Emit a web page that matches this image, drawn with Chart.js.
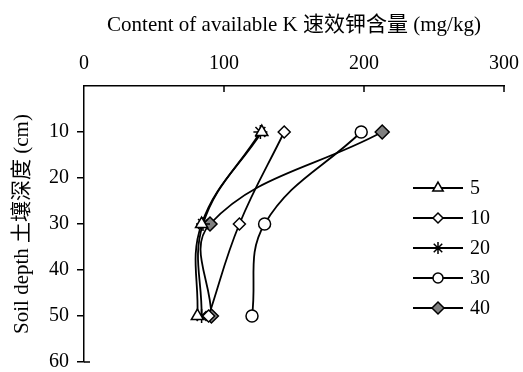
<!DOCTYPE html>
<html><head><meta charset="utf-8">
<script src="https://cdn.jsdelivr.net/npm/chart.js@4/dist/chart.umd.min.js"></script>
<style>html,body{margin:0;padding:0;background:#fff}#c{display:block}</style>
</head><body>
<canvas id="c" width="523" height="372"></canvas>
<script>
const depths = [10, 30, 50];
const seriesNames = ['5', '10', '20', '30', '40'];
const s5 = [127, 84, 81];
const s10 = [143, 111, 89];
const s20 = [126, 85, 84];
const s30 = [198, 129, 120];
const s40 = [213, 90, 91];
const xTicks = [0, 100, 200, 300];
const yTicks = [10, 20, 30, 40, 50, 60];
const xTitle = 'Content of available K 速效钾含量 (mg/kg)';
const yTitle = 'Soil depth 土壤深度 (cm)';

const serif = '"Liberation Serif", "Times New Roman", "Noto Sans CJK SC", serif';
const styles = [
  {pointStyle:'triangle', bg:'#fff', r:7},
  {pointStyle:'rectRot', bg:'#fff', r:6},
  {pointStyle:'star', bg:'#000', r:7},
  {pointStyle:'circle', bg:'#fff', r:6},
  {pointStyle:'rectRot', bg:'#808080', r:7}
];
const allSeries = [s5, s10, s20, s30, s40];
const datasets = allSeries.map((s, i) => ({
  label: seriesNames[i],
  data: s.map((v, j) => ({x: v, y: depths[j]})),
  showLine: true,
  tension: 0.4,
  borderColor: '#000',
  borderWidth: 1.8,
  pointStyle: styles[i].pointStyle,
  pointRadius: styles[i].r,
  pointBackgroundColor: styles[i].bg,
  pointBorderColor: '#000',
  pointBorderWidth: 1.5
}));

const extras = {
  id: 'extras',
  afterDraw(chart) {
    const ctx = chart.ctx;
    const xs = chart.scales.x, ys = chart.scales.y;
    ctx.save();
    ctx.strokeStyle = '#000';
    ctx.lineWidth = 1.5;
    xTicks.forEach(v => {
      if (v === 0) return;
      const px = xs.getPixelForValue(v);
      ctx.beginPath(); ctx.moveTo(px, chart.chartArea.top); ctx.lineTo(px, chart.chartArea.top + 6); ctx.stroke();
    });
    const by = ys.getPixelForValue(60);
    ctx.beginPath(); ctx.moveTo(xs.left, by); ctx.lineTo(xs.left + 6, by); ctx.stroke();
    const lx = 413, ly0 = 188, dy = 30;
    ctx.font = '20px ' + serif;
    ctx.textBaseline = 'middle';
    datasets.forEach((d, i) => {
      const y = ly0 + i * dy;
      ctx.lineWidth = 1.8;
      ctx.beginPath(); ctx.moveTo(lx, y); ctx.lineTo(lx + 50, y); ctx.stroke();
      ctx.lineWidth = 1.5;
      ctx.fillStyle = d.pointBackgroundColor;
      Chart.helpers.drawPoint(ctx, {pointStyle: d.pointStyle, radius: d.pointRadius - 1, rotation: 0, borderWidth: 1.5}, lx + 25, y);
      ctx.fillStyle = '#000';
      ctx.fillText(d.label, lx + 57, y + 1);
    });
    ctx.restore();
  }
};

new Chart(document.getElementById('c'), {
  type: 'scatter',
  data: {datasets},
  options: {
    responsive: false,
    animation: false,
    layout: {padding: {left: 0, right: 19, top: 4, bottom: 10}},
    plugins: {legend: {display: false}, tooltip: {enabled: false}},
    scales: {
      x: {
        type: 'linear', position: 'top', min: 0, max: 300,
        afterBuildTicks: s => { s.ticks = xTicks.map(v => ({value: v})); },
        afterFit: s => { s.height = 82; s.paddingLeft = 0; s.paddingRight = 0; },
        grid: {display: true, drawOnChartArea: false, drawTicks: false, color: '#000'},
        border: {display: true, color: '#000', width: 1.5},
        ticks: {font: {family: serif, size: 20}, color: '#000', padding: 10, maxRotation: 0},
        title: {display: true, text: xTitle, font: {family: serif, size: 21}, color: '#000', padding: {top: 9, bottom: 0}}
      },
      y: {
        type: 'linear', reverse: true, min: 0, max: 60,
        afterBuildTicks: s => { s.ticks = yTicks.map(v => ({value: v})); },
        afterFit: s => { s.width = 84; s.paddingTop = 0; s.paddingBottom = 0; },
        grid: {display: true, drawOnChartArea: false, drawTicks: true, tickLength: 7, color: '#000', lineWidth: 1.5},
        border: {display: true, color: '#000', width: 1.5},
        ticks: {font: {family: serif, size: 20}, color: '#000', padding: 8},
        title: {display: true, text: yTitle, font: {family: serif, size: 21}, color: '#000', padding: {top: 10, bottom: 0}}
      }
    }
  },
  plugins: [extras]
});
</script>
</body></html>
